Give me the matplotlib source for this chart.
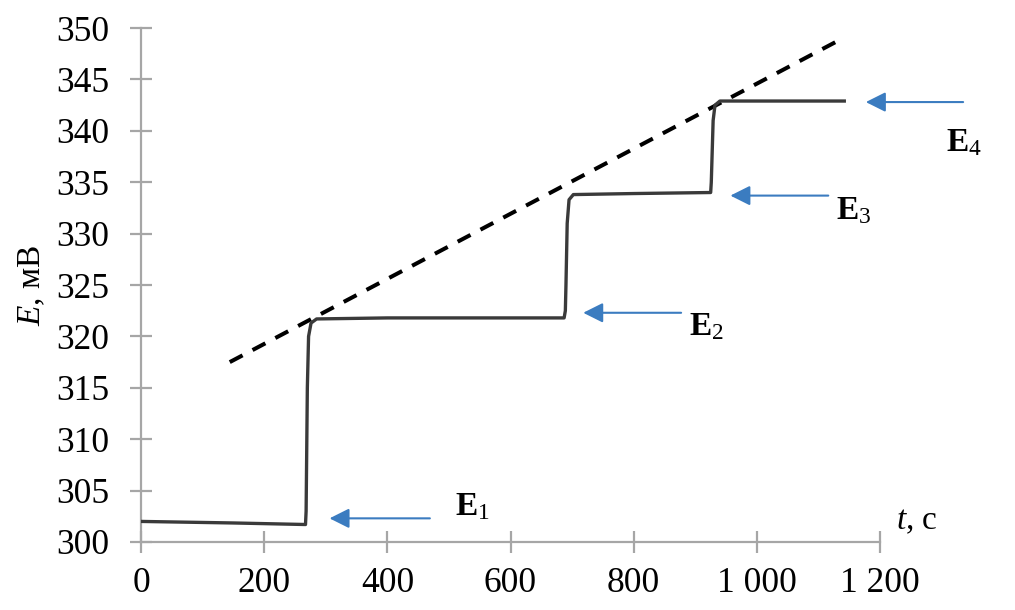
import matplotlib
matplotlib.use("Agg")
import matplotlib.pyplot as plt

plt.rcParams['font.family'] = ['Liberation Serif', 'DejaVu Serif']
plt.rcParams['mathtext.fontset'] = 'custom'
plt.rcParams['mathtext.rm'] = 'Liberation Serif'
plt.rcParams['mathtext.it'] = 'Liberation Serif:italic'
plt.rcParams['mathtext.bf'] = 'Liberation Serif:bold'

# titration curve (time, s ; potential, mV)
t = [0, 150, 267, 268, 270, 272, 276, 285, 400, 687, 689, 690, 692, 695, 702, 800,
     925, 926, 927, 929, 932, 940, 1142]
E = [302.0, 301.85, 301.7, 303.0, 315.0, 320.0, 321.3, 321.7, 321.8, 321.8, 322.5, 325.0,
     331.0, 333.3, 333.8, 333.9, 334.0, 335.0, 337.0, 341.0, 342.5, 342.9, 342.9]

# dashed trend line
trend_t = [144, 1133]
trend_E = [317.5, 348.8]

# arrows marking equivalence points
arrow_y = [302.3, 322.3, 333.7, 342.8]
arrow_tip = [306, 718, 957, 1177]
arrow_tail = [469, 877, 1116, 1335]
labels = [r'$\mathbf{E}_{1}$', r'$\mathbf{E}_{2}$', r'$\mathbf{E}_{3}$', r'$\mathbf{E}_{4}$']
label_x = [509, 890, 1129, 1307]
label_y = [302.6, 320.1, 331.4, 338.0]

xticks = [0, 200, 400, 600, 800, 1000, 1200]
xticklabels = ['0', '200', '400', '600', '800', '1 000', '1 200']
yticks = [300, 305, 310, 315, 320, 325, 330, 335, 340, 345, 350]

fig = plt.figure(figsize=(10.15, 6.1), dpi=100)
ax = fig.add_axes([0.139, 0.1115, 0.728, 0.8425])

ax.plot(trend_t, trend_E, color='black', lw=2.9, dashes=(3.6, 2.8), zorder=3)
ax.plot(t, E, color='#3a3a3a', lw=2.4, zorder=4, solid_joinstyle='round')

blue = '#3b7cc0'
for y, tip, tail, lab, lx, ly in zip(arrow_y, arrow_tip, arrow_tail, labels, label_x, label_y):
    ax.annotate('', xy=(tip, y), xytext=(tail, y),
                arrowprops=dict(arrowstyle='-|>,head_length=0.6,head_width=0.3',
                                mutation_scale=20, color=blue, lw=1.5,
                                shrinkA=0, shrinkB=0),
                annotation_clip=False)
    ax.text(lx, ly, lab, fontsize=24, va='baseline', ha='left', clip_on=False)

ax.set_xlim(0, 1200)
ax.set_ylim(300, 350)
ax.set_xticks(xticks)
ax.set_xticklabels(xticklabels)
ax.set_yticks(yticks)

for s in ['top', 'right']:
    ax.spines[s].set_visible(False)
for s in ['left', 'bottom']:
    ax.spines[s].set_color('#a6a6a6')
    ax.spines[s].set_linewidth(1.6)

ax.tick_params(axis='both', direction='inout', length=16, width=1.6,
               color='#a6a6a6', labelsize=25.5, labelcolor='black')
ax.tick_params(axis='y', pad=15)
ax.tick_params(axis='x', pad=10)

ax.set_ylabel(r'$\mathit{E}$, мВ', fontsize=24, labelpad=6)
ax.text(1226, 301.2, r'$\mathit{t}$, с', fontsize=24, va='baseline', ha='left',
        clip_on=False)

fig.savefig('out.png', dpi=100)
